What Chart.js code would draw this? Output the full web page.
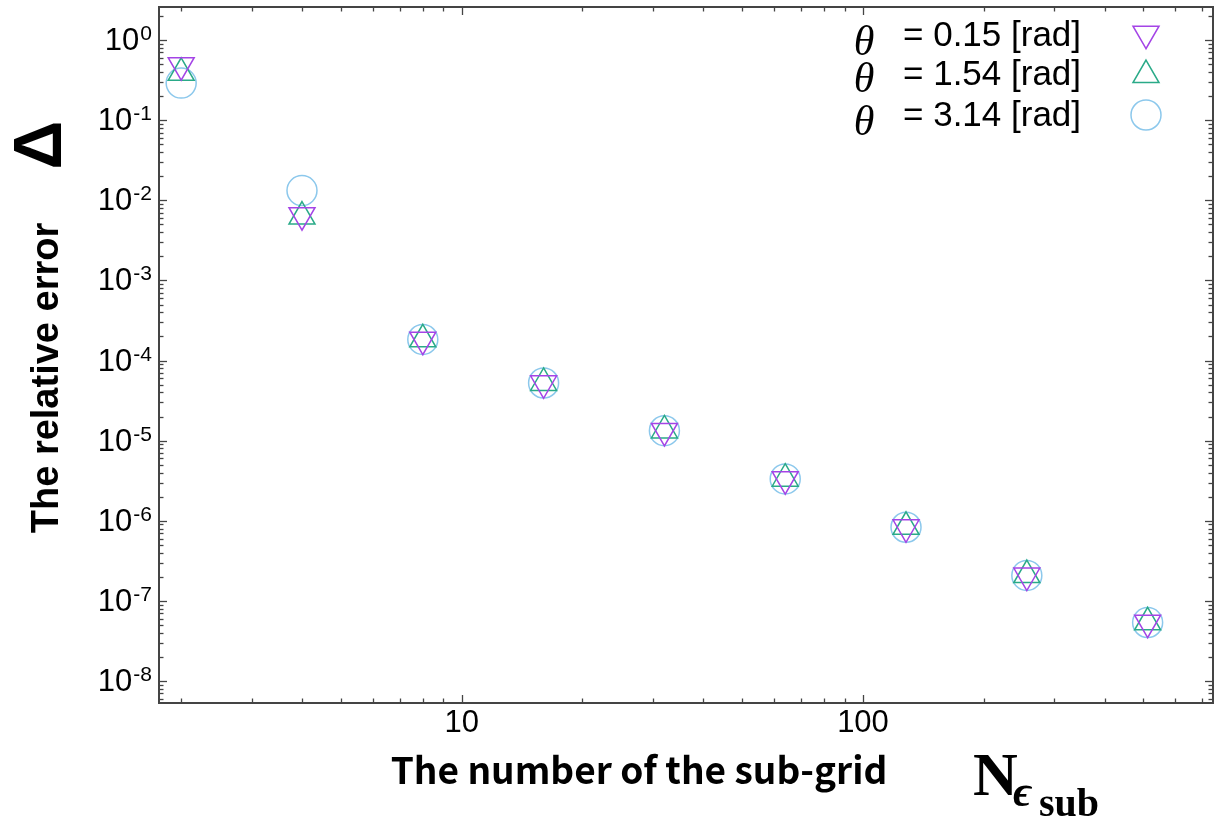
<!DOCTYPE html>
<html>
<head>
<meta charset="utf-8">
<script src="https://cdn.jsdelivr.net/npm/chart.js@4"></script>
<style>
  html, body { margin: 0; padding: 0; background: #fff; }
  canvas { display: block; }
</style>
</head>
<body>
<canvas id="err-chart" width="1214" height="821"></canvas>
<script>
// number of sub-grid cells vs relative error, three angles
const subGrid = [2, 4, 8, 16, 32, 64, 128, 256, 512];
const errTheta015 = [0.485, 0.00652, 1.82e-4, 5.2e-5, 1.32e-5, 3.3e-6, 8.3e-7, 2.07e-7, 5.35e-8];
const errTheta154 = [0.39, 0.00625, 1.84e-4, 5.25e-5, 1.34e-5, 3.35e-6, 8.4e-7, 2.1e-7, 5.4e-8];
const errTheta314 = [0.29, 0.0132, 1.83e-4, 5.24e-5, 1.33e-5, 3.33e-6, 8.3e-7, 2.08e-7, 5.37e-8];
const thetaLabels = ['= 0.15 [rad]', '= 1.54 [rad]', '= 3.14 [rad]'];
const xTickValues = [10, 100];
const yTickExponents = [0, -1, -2, -3, -4, -5, -6, -7, -8];

const colors = ['#a444e6', '#2aaa88', '#8cc8ec'];
const styles = [
  { pointStyle: 'triangle', rotation: 180 },
  { pointStyle: 'triangle', rotation: 0 },
  { pointStyle: 'circle', rotation: 0 }
];
const series = [errTheta015, errTheta154, errTheta314];

function toPoints(vals) {
  return subGrid.map((n, i) => ({ x: n, y: vals[i] }));
}

function line(ctx, x1, y1, x2, y2) {
  ctx.beginPath();
  ctx.moveTo(x1, y1);
  ctx.lineTo(x2, y2);
  ctx.stroke();
}

function marker(ctx, style, color, x, y) {
  ctx.save();
  ctx.strokeStyle = color;
  ctx.fillStyle = 'rgba(0,0,0,0)';
  ctx.lineWidth = 1.5;
  Chart.helpers.drawPoint(ctx, { pointStyle: style.pointStyle, rotation: style.rotation, radius: 15, borderWidth: 1.5 }, x, y);
  ctx.restore();
}

// frame + inward ticks on all four sides
const framePlugin = {
  id: 'frame',
  afterDatasetsDraw(chart) {
    const { ctx, chartArea: a, scales: { x, y } } = chart;
    ctx.save();
    ctx.strokeStyle = '#444';
    ctx.lineWidth = 1.3;
    for (let e = Math.floor(Math.log10(y.min)); e <= Math.ceil(Math.log10(y.max)); e++) {
      for (let m = 1; m < 10; m++) {
        const v = m * Math.pow(10, e);
        if (v < y.min || v > y.max) continue;
        const py = Math.round(y.getPixelForValue(v)) + 0.5;
        const len = m === 1 ? 8 : 4.5;
        line(ctx, a.left, py, a.left + len, py);
        line(ctx, a.right, py, a.right - len, py);
      }
    }
    for (let e = Math.floor(Math.log10(x.min)); e <= Math.ceil(Math.log10(x.max)); e++) {
      for (let m = 1; m < 10; m++) {
        const v = m * Math.pow(10, e);
        if (v < x.min || v > x.max) continue;
        const px = Math.round(x.getPixelForValue(v)) + 0.5;
        const len = m === 1 ? 8 : 4.5;
        line(ctx, px, a.bottom, px, a.bottom - len);
        line(ctx, px, a.top, px, a.top + len);
      }
    }
    ctx.lineWidth = 2;
    ctx.strokeRect(a.left, a.top, a.right - a.left, a.bottom - a.top);
    ctx.restore();
  },
  afterDraw(chart) {
    const { ctx, chartArea: a, scales: { x, y } } = chart;
    ctx.save();
    ctx.fillStyle = '#000';

    // y tick labels 10^n
    yTickExponents.forEach(e => {
      const py = y.getPixelForValue(Math.pow(10, e));
      const sup = String(e);
      ctx.font = '21px "Liberation Sans", Arial, sans-serif';
      const supW = ctx.measureText(sup).width;
      ctx.textAlign = 'right';
      ctx.textBaseline = 'alphabetic';
      ctx.fillText(sup, 152, py);
      ctx.font = '31px "Liberation Sans", Arial, sans-serif';
      ctx.fillText('10', 152 - supW - 1, py + 10);
    });

    // x tick labels
    ctx.font = '31px "Liberation Sans", Arial, sans-serif';
    ctx.textAlign = 'center';
    xTickValues.forEach(v => {
      ctx.fillText(String(v), x.getPixelForValue(v), 732);
    });

    // x title
    ctx.font = 'bold 37px "Noto Sans CJK JP", "Noto Sans", sans-serif';
    ctx.textBaseline = 'middle';
    ctx.fillText('The number of the sub-grid', 639, 770);

    // N_{eps sub}
    ctx.textAlign = 'left';
    ctx.textBaseline = 'alphabetic';
    ctx.font = 'bold 62px "Liberation Serif", "DejaVu Serif", serif';
    ctx.fillText('N', 973, 795);
    ctx.font = 'italic bold 44px "Liberation Serif", "DejaVu Serif", serif';
    ctx.fillText('\u03f5', 1013, 806);
    ctx.font = 'bold 40px "Liberation Serif", "DejaVu Serif", serif';
    ctx.fillText('sub', 1039, 816);

    // y title + Delta (rotated)
    ctx.save();
    ctx.translate(48, 378);
    ctx.rotate(-Math.PI / 2);
    ctx.textAlign = 'center';
    ctx.textBaseline = 'middle';
    ctx.font = 'bold 38px "Liberation Sans", Arial, sans-serif';
    ctx.fillText('The relative error', 0, 0);
    ctx.restore();
    ctx.save();
    ctx.translate(42, 145);
    ctx.rotate(-Math.PI / 2);
    ctx.textAlign = 'center';
    ctx.textBaseline = 'middle';
    ctx.font = 'bold 68px "Liberation Sans", Arial, sans-serif';
    ctx.fillText('\u0394', 0, 0);
    ctx.restore();

    // legend
    const textBase = [46, 85, 126];
    const thetaBase = [55, 92, 135];
    const markY = [33.7, 75, 115];
    thetaLabels.forEach((label, i) => {
      ctx.textAlign = 'center';
      ctx.font = 'italic 42px "Liberation Serif", "DejaVu Serif", serif';
      ctx.fillText('\u03b8', 864, thetaBase[i]);
      ctx.textAlign = 'left';
      ctx.font = '35px "Liberation Sans", Arial, sans-serif';
      ctx.fillText(label, 903, textBase[i]);
      marker(ctx, styles[i], colors[i], 1146, markY[i]);
    });
    ctx.restore();
  }
};

const ctx = document.getElementById('err-chart').getContext('2d');

new Chart(ctx, {
  type: 'scatter',
  data: {
    datasets: series.map((vals, i) => ({
      label: thetaLabels[i],
      data: toPoints(vals),
      borderColor: colors[i],
      backgroundColor: 'rgba(0,0,0,0)',
      pointStyle: styles[i].pointStyle,
      rotation: styles[i].rotation,
      pointRadius: 15,
      pointHoverRadius: 15,
      pointBorderWidth: 1.5,
      showLine: false,
      clip: false
    }))
  },
  options: {
    responsive: false,
    animation: false,
    layout: { autoPadding: false, padding: { left: 159, top: 7, right: 1, bottom: 118 } },
    scales: {
      x: { type: 'logarithmic', min: 1.761, max: 745, display: false },
      y: { type: 'logarithmic', min: 5.32e-9, max: 2.58, display: false }
    },
    plugins: {
      legend: { display: false },
      tooltip: { enabled: false }
    }
  },
  plugins: [framePlugin]
});
</script>
</body>
</html>
